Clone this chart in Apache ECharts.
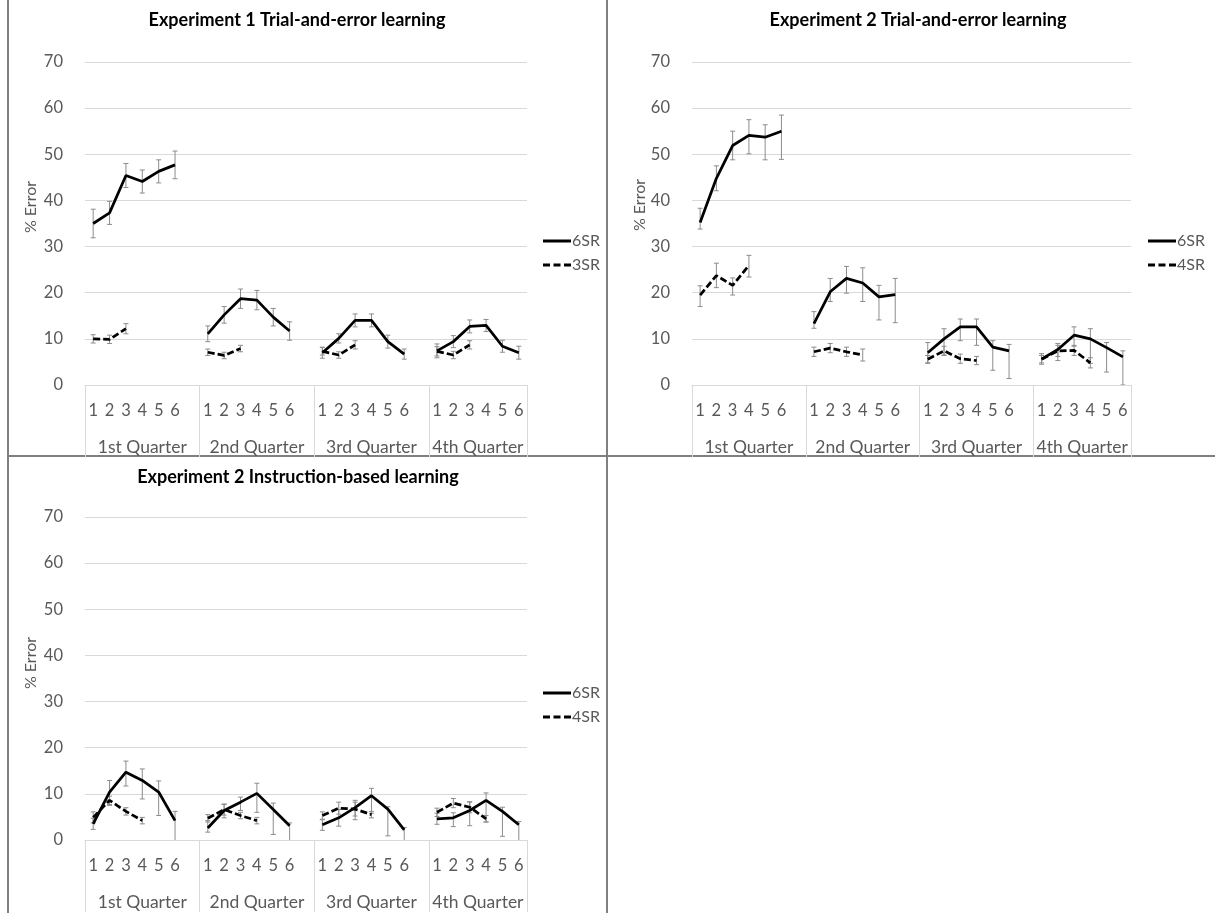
<!DOCTYPE html>
<html>
<head>
<meta charset="utf-8">
<script src="https://cdn.jsdelivr.net/npm/echarts@6/dist/echarts.min.js"></script>
<style>html,body{margin:0;padding:0;background:#fff}#c{width:1215px;height:913px}</style>
</head>
<body>
<div id="c"></div>
<script>
// ---- Data ----
const sessions = ['1','2','3','4','5','6'];
const quarters = ['1st Quarter','2nd Quarter','3rd Quarter','4th Quarter'];
const titles = ['Experiment 1 Trial-and-error learning','Experiment 2 Trial-and-error learning','Experiment 2 Instruction-based learning'];
const yTicks = [0,10,20,30,40,50,60,70];

// Panel 1: Experiment 1 trial-and-error (6SR, 3SR)
const p1_6SR_mean = [35.0,37.3,45.4,44.1,46.3,47.7, 11.1,15.2,18.7,18.4,14.7,11.7, 7.0,10.1,14.0,14.0,9.4,6.7, 7.4,9.4,12.7,12.9,8.4,7.0];
const p1_6SR_up   = [3.1,2.5,2.6,2.5,2.5,3.0, 1.7,1.8,2.1,2.1,1.9,2.0, 1.2,1.0,1.4,1.4,1.4,1.1, 1.5,1.3,1.4,1.3,1.3,1.4];
const p1_6SR_down = [3.1,2.5,2.6,2.5,2.5,3.0, 1.7,1.8,2.1,2.1,1.9,2.0, 1.2,1.0,1.4,1.4,1.4,1.1, 1.5,1.3,1.4,1.3,1.3,1.4];
const p1_3SR_mean = [10.0,9.9,12.2, 7.1,6.4,7.9, 7.3,6.5,8.7, 7.3,6.5,8.7];
const p1_3SR_up   = [0.9,0.9,1.1, 0.7,0.7,0.7, 0.8,0.7,0.9, 1.0,0.8,0.9];
const p1_3SR_down = [0.9,0.9,1.1, 0.7,0.7,0.7, 0.8,0.7,0.9, 1.0,0.8,0.9];

// Panel 2: Experiment 2 trial-and-error (6SR, 4SR)
const p2_6SR_mean = [35.2,44.8,51.9,54.1,53.7,55.0, 13.3,20.2,23.1,22.1,19.1,19.6, 7.0,10.0,12.6,12.6,8.2,7.4, 5.6,7.7,10.8,10.0,8.1,6.1];
const p2_6SR_up   = [3.1,2.7,3.1,3.4,2.7,3.5, 2.6,2.9,2.6,3.3,2.5,3.5, 2.2,2.2,1.7,1.7,1.4,1.4, 1.2,1.3,1.8,2.2,1.1,1.3];
const p2_6SR_down = [1.4,2.7,3.1,4.0,4.9,6.1, 1.0,2.1,3.2,4.0,5.0,6.1, 2.3,3.5,3.0,4.0,5.0,6.0, 1.1,2.4,2.4,5.3,5.3,6.1];
const p2_4SR_mean = [19.5,23.7,21.6,25.9, 7.2,8.0,7.2,6.5, 5.6,7.4,5.7,5.3, 5.6,7.4,7.5,4.8];
const p2_4SR_up   = [2.0,2.7,1.6,2.2, 1.0,1.0,1.0,1.3, 0.8,1.0,1.0,0.9, 0.8,1.2,1.1,1.1];
const p2_4SR_down = [2.5,2.6,2.1,2.5, 1.0,1.0,1.0,1.3, 0.8,1.0,1.0,0.9, 0.8,1.2,1.1,1.1];

// Panel 3: Experiment 2 instruction-based (6SR, 4SR)
const p3_6SR_mean = [3.5,10.4,14.7,12.9,10.4,4.2, 2.6,6.4,8.2,10.1,6.6,3.1, 3.3,4.8,7.0,9.6,6.7,2.2, 4.6,4.8,6.4,8.6,6.2,3.3];
const p3_6SR_up   = [1.2,2.5,2.4,2.5,2.4,2.0, 1.6,1.3,1.1,2.2,1.4,0.6, 1.1,1.8,1.6,1.6,0.5,0.5, 1.2,1.1,1.8,1.6,0.9,0.7];
const p3_6SR_down = [1.2,2.9,3.0,4.0,5.1,4.5, 0.9,1.6,1.8,4.1,5.4,3.5, 1.2,1.8,2.6,3.8,5.8,2.5, 1.2,1.9,3.3,4.7,5.4,3.5];
const p3_4SR_mean = [4.9,8.6,6.2,4.2, 4.7,6.6,5.3,4.2, 5.3,6.9,6.7,5.5, 6.0,8.0,7.1,4.6];
const p3_4SR_up   = [1.2,0.9,0.8,0.7, 0.8,1.2,0.7,0.7, 0.8,1.3,1.5,0.7, 0.9,1.0,1.2,0.7];
const p3_4SR_down = [1.2,0.9,0.8,0.7, 0.8,1.2,0.7,0.7, 0.8,1.3,1.5,0.7, 0.9,1.0,1.2,0.7];

// ---- Build ----
const GROUP = 7; // 6 sessions + blank spacer per quarter
const categories = [];
quarters.forEach((q, qi) => {
  sessions.forEach(s => categories.push(s));
  if (qi < quarters.length - 1) categories.push('');
});
const NCAT = categories.length;
const sepValues = [0,7,14,21,NCAT];
const quarterCenters = [3.5,10.5,17.5,24];

function place(vals, per) {
  const arr = new Array(NCAT).fill(null);
  for (let q = 0; q < 4; q++) for (let s = 0; s < per; s++) arr[q*GROUP + s] = vals[q*per + s];
  return arr;
}
function errData(mean, up, down, per) {
  const out = [];
  for (let q = 0; q < 4; q++) for (let s = 0; s < per; s++) {
    const k = q*per + s, m = mean[k];
    out.push([q*GROUP + s, m, m - down[k], m + up[k]]);
  }
  return out;
}

const FONT = 'Lato, "Liberation Sans", sans-serif';
const GREY = '#595959';
const grids = [
  {left: 85, top: 62, width: 442, height: 323},
  {left: 692, top: 62, width: 439, height: 323},
  {left: 85, top: 517, width: 442, height: 323}
];

const xAxes = [], yAxes = [], series = [];
grids.forEach((g, gi) => {
  xAxes.push({
    type: 'category', gridIndex: gi, data: categories, boundaryGap: true,
    axisLine: {lineStyle: {color: '#d9d9d9', width: 1}},
    axisTick: {show: false},
    axisLabel: {interval: 0, fontSize: 16.5, color: GREY, fontFamily: FONT, margin: 17}
  });
  xAxes.push({
    type: 'value', gridIndex: gi, min: 0, max: NCAT, position: 'bottom',
    axisLine: {show: false}, splitLine: {show: false},
    axisTick: {show: true, customValues: sepValues, length: 72, lineStyle: {color: '#d9d9d9', width: 1}},
    axisLabel: {show: true, customValues: quarterCenters, fontSize: 17.5, color: GREY, fontFamily: FONT, margin: 53,
      formatter: v => { const i = quarterCenters.indexOf(v); return i >= 0 ? quarters[i] : ''; }}
  });
  yAxes.push({
    type: 'value', gridIndex: gi, min: yTicks[0], max: yTicks[yTicks.length-1], interval: 10,
    axisLine: {show: false}, axisTick: {show: false},
    splitLine: {lineStyle: {color: '#d9d9d9', width: 1}},
    axisLabel: {fontSize: 16.5, color: GREY, fontFamily: FONT, margin: 22}
  });
});

function lineSeries(gi, name, data, dashed) {
  return {
    type: 'line', name, xAxisIndex: gi*2, yAxisIndex: gi, data, symbol: 'none',
    connectNulls: false, z: 3,
    lineStyle: {color: '#000', width: 2.75, type: dashed ? [7,3] : 'solid'},
    itemStyle: {color: '#000'}
  };
}
function errSeries(gi, data) {
  return {
    type: 'custom', xAxisIndex: gi*2, yAxisIndex: gi, data, clip: true, z: 2, silent: true,
    encode: {x: 0, y: 1},
    renderItem(params, api) {
      const x = api.value(0);
      const top = api.coord([x, api.value(3)]);
      const bot = api.coord([x, api.value(2)]);
      const w = 2.5;
      const st = {stroke: '#8c8c8c', lineWidth: 1};
      return {type: 'group', children: [
        {type: 'line', shape: {x1: top[0], y1: top[1], x2: bot[0], y2: bot[1]}, style: st},
        {type: 'line', shape: {x1: top[0]-w, y1: top[1], x2: top[0]+w, y2: top[1]}, style: st},
        {type: 'line', shape: {x1: bot[0]-w, y1: bot[1], x2: bot[0]+w, y2: bot[1]}, style: st}
      ]};
    }
  };
}

const panels = [
  {a: ['6SR', p1_6SR_mean, p1_6SR_up, p1_6SR_down, 6], b: ['3SR', p1_3SR_mean, p1_3SR_up, p1_3SR_down, 3]},
  {a: ['6SR', p2_6SR_mean, p2_6SR_up, p2_6SR_down, 6], b: ['4SR', p2_4SR_mean, p2_4SR_up, p2_4SR_down, 4]},
  {a: ['6SR', p3_6SR_mean, p3_6SR_up, p3_6SR_down, 6], b: ['4SR', p3_4SR_mean, p3_4SR_up, p3_4SR_down, 4]}
];
panels.forEach((p, gi) => {
  series.push(errSeries(gi, errData(p.a[1], p.a[2], p.a[3], p.a[4])));
  series.push(errSeries(gi, errData(p.b[1], p.b[2], p.b[3], p.b[4])));
  series.push(lineSeries(gi, p.a[0], place(p.a[1], p.a[4]), false));
  series.push(lineSeries(gi, p.b[0], place(p.b[1], p.b[4]), true));
});

const SOLID_ICON = 'path://M0,0h28v3h-28z';
const DASH_ICON = 'path://M0,0h7v3h-7z M10.5,0h7v3h-7z M21,0h7v3h-7z';
const legendPos = [{left: 543, top: 233}, {left: 1148, top: 233}, {left: 543, top: 685}];
const legends = panels.map((p, gi) => ({
  ...legendPos[gi], orient: 'vertical', padding: 0,
  data: [{name: p.a[0], icon: SOLID_ICON}, {name: p.b[0], icon: DASH_ICON}],
  itemWidth: 28, itemHeight: 3, itemGap: 8, selectedMode: false,
  itemStyle: {color: '#000', borderWidth: 0},
  lineStyle: {opacity: 0},
  textStyle: {fontSize: 16, color: GREY, fontFamily: FONT, padding: [0,0,0,-4]}
}));

const titlePos = [[297, 20], [918, 20], [298, 477]];
const yNamePos = [[31, 207], [640, 205], [31, 663]];
const graphics = [];
titles.forEach((t, i) => graphics.push({type: 'text', x: titlePos[i][0], y: titlePos[i][1],
  style: {text: t, font: 'bold 18px ' + FONT, fill: '#000', align: 'center', verticalAlign: 'middle'}}));
yNamePos.forEach(pos => graphics.push({type: 'text', x: pos[0], y: pos[1], rotation: Math.PI/2,
  style: {text: '% Error', font: '16px ' + FONT, fill: GREY, align: 'center', verticalAlign: 'middle'}}));
const border = {stroke: '#808080', lineWidth: 2};
graphics.push({type: 'line', shape: {x1: 8, y1: 0, x2: 8, y2: 913}, style: border});
graphics.push({type: 'line', shape: {x1: 607, y1: 0, x2: 607, y2: 913}, style: border});
graphics.push({type: 'line', shape: {x1: 8, y1: 456, x2: 1215, y2: 456}, style: border});

const chart = echarts.init(document.getElementById('c'), null, {renderer: 'canvas'});
chart.setOption({
  animation: false,
  backgroundColor: '#fff',
  textStyle: {fontFamily: FONT},
  grid: grids,
  xAxis: xAxes,
  yAxis: yAxes,
  legend: legends,
  graphic: graphics,
  series
});
</script>
</body>
</html>
